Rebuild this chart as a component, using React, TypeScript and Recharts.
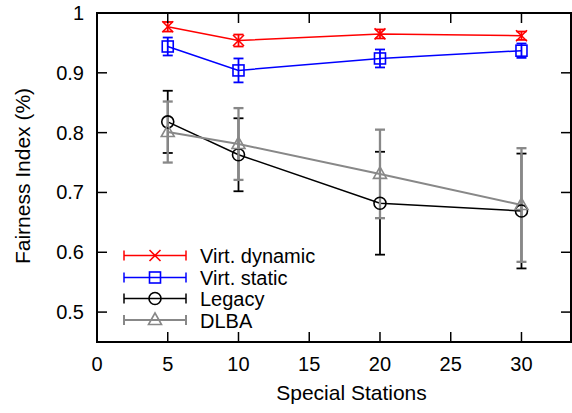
import React from "react";
import { LineChart, Line, XAxis, YAxis, ErrorBar, ReferenceArea } from "recharts";

const stations = [5, 10, 20, 30];
const virtDynamic = [0.977, 0.954, 0.965, 0.962];
const virtDynamicErr = [0.008, 0.01, 0.0075, 0.007];
const virtStatic = [0.944, 0.904, 0.924, 0.937];
const virtStaticErr = [0.015, 0.02, 0.015, 0.012];
const legacy = [0.818, 0.763, 0.682, 0.669];
const legacyErr = [0.052, 0.061, 0.086, 0.096];
const dlba = [0.801, 0.781, 0.731, 0.679];
const dlbaErr = [0.051, 0.06, 0.074, 0.095];

const xTicks = [0, 5, 10, 15, 20, 25, 30];
const yTicks = [0.5, 0.6, 0.7, 0.8, 0.9, 1];

const data = stations.map((s, i) => ({
  x: s,
  vd: virtDynamic[i],
  vdErr: virtDynamicErr[i],
  vs: virtStatic[i],
  vsErr: virtStaticErr[i],
  legacy: legacy[i],
  legacyErr: legacyErr[i],
  dlba: dlba[i],
  dlbaErr: dlbaErr[i],
}));

const W = 572;
const H = 413;
const LEFT = 97;
const RIGHT = 571;
const TOP = 13;
const BOTTOM = 342;
const TICK = 10;
const FONT = "'Liberation Sans', Arial, sans-serif";

const RED = "#ff0000";
const BLUE = "#0000ff";
const BLACK = "#000000";
const GRAY = "#888888";

function Marker({ kind, cx, cy, color }: { kind: string; cx: number; cy: number; color: string }) {
  if (kind === "x") {
    return (
      <g stroke={color} strokeWidth={1.6} fill="none">
        <line x1={cx - 5.5} y1={cy - 5.5} x2={cx + 5.5} y2={cy + 5.5} />
        <line x1={cx - 5.5} y1={cy + 5.5} x2={cx + 5.5} y2={cy - 5.5} />
      </g>
    );
  }
  if (kind === "square") {
    return <rect x={cx - 5.5} y={cy - 5.5} width={11} height={11} stroke={color} strokeWidth={1.6} fill="none" />;
  }
  if (kind === "circle") {
    return <circle cx={cx} cy={cy} r={6} stroke={color} strokeWidth={1.6} fill="none" />;
  }
  return (
    <polygon
      points={`${cx},${cy - 7} ${cx - 6.5},${cy + 4.5} ${cx + 6.5},${cy + 4.5}`}
      stroke={color}
      strokeWidth={1.6}
      fill="none"
    />
  );
}

const series = [
  { key: "vd", name: "Virt. dynamic", color: RED, kind: "x", width: 1.5 },
  { key: "vs", name: "Virt. static", color: BLUE, kind: "square", width: 1.5 },
  { key: "legacy", name: "Legacy", color: BLACK, kind: "circle", width: 1.5 },
  { key: "dlba", name: "DLBA", color: GRAY, kind: "triangle", width: 2 },
];

function XTick(props: any) {
  const { x, payload } = props;
  const v = payload.value;
  return (
    <g>
      {v > 0 && (
        <>
          <line x1={x} y1={BOTTOM} x2={x} y2={BOTTOM - TICK} stroke="#000" strokeWidth={1.5} />
          <line x1={x} y1={TOP} x2={x} y2={TOP + TICK} stroke="#000" strokeWidth={1.5} />
        </>
      )}
      <text x={x} y={BOTTOM + 29} textAnchor="middle" fontSize={20} fontFamily={FONT} fill="#000">
        {v}
      </text>
    </g>
  );
}

function YTick(props: any) {
  const { y, payload } = props;
  const v = payload.value;
  return (
    <g>
      {v < 1 && (
        <>
          <line x1={LEFT} y1={y} x2={LEFT + TICK} y2={y} stroke="#000" strokeWidth={1.5} />
          <line x1={RIGHT} y1={y} x2={RIGHT - TICK} y2={y} stroke="#000" strokeWidth={1.5} />
        </>
      )}
      <text x={84} y={y + 7} textAnchor="end" fontSize={20} fontFamily={FONT} fill="#000">
        {v}
      </text>
    </g>
  );
}

function LegendBox() {
  const rows = [255.5, 277.5, 298.5, 320];
  return (
    <svg width={W} height={H} style={{ position: "absolute", left: 0, top: 0, pointerEvents: "none" }}>
      {series.map((s, i) => {
        const y = rows[i];
        return (
          <g key={s.key}>
            <g stroke={s.color} strokeWidth={s.width}>
              <line x1={124} y1={y} x2={186} y2={y} />
              <line x1={124} y1={y - 5} x2={124} y2={y + 5} />
              <line x1={186} y1={y - 5} x2={186} y2={y + 5} />
            </g>
            <Marker kind={s.kind} cx={155} cy={y} color={s.color} />
            <text x={200} y={y + 7.5} fontSize={20} fontFamily={FONT} fill="#000">
              {s.name}
            </text>
          </g>
        );
      })}
    </svg>
  );
}

export default function App() {
  return (
    <div style={{ position: "absolute", left: 0, top: 0, width: W, height: H, background: "#fff" }}>
      <LineChart width={W} height={H} data={data} margin={{ top: TOP, right: W - RIGHT, left: 0, bottom: 0 }}>
        <ReferenceArea x1={0} x2={33.5} y1={0.45} y2={1} fill="none" stroke="#000" strokeWidth={2} ifOverflow="visible" />
        <XAxis
          dataKey="x"
          type="number"
          domain={[0, 33.5]}
          ticks={xTicks}
          height={H - BOTTOM}
          axisLine={false}
          tickLine={false}
          tick={<XTick />}
          label={{
            content: () => (
              <text x={351.5} y={400} textAnchor="middle" fontSize={21} fontFamily={FONT} fill="#000">
                Special Stations
              </text>
            ),
          }}
        />
        <YAxis
          type="number"
          domain={[0.45, 1]}
          ticks={yTicks}
          width={LEFT}
          axisLine={false}
          tickLine={false}
          tick={<YTick />}
          label={{
            content: () => (
              <text
                x={22}
                y={176}
                transform="rotate(-90 22 176)"
                textAnchor="middle"
                dominantBaseline="central"
                fontSize={21}
                fontFamily={FONT}
                fill="#000"
              >
                Fairness Index (%)
              </text>
            ),
          }}
        />
        {series.map((s) => (
          <Line
            key={s.key}
            dataKey={s.key}
            type="linear"
            stroke={s.color}
            strokeWidth={s.width}
            isAnimationActive={false}
            activeDot={false}
            dot={(p: any) => <Marker key={`${s.key}-${p.index}`} kind={s.kind} cx={p.cx} cy={p.cy} color={s.color} />}
          >
            <ErrorBar dataKey={`${s.key}Err`} direction="y" width={5} stroke={s.color} strokeWidth={s.width + 0.3} />
          </Line>
        ))}
      </LineChart>
      <LegendBox />
    </div>
  );
}
